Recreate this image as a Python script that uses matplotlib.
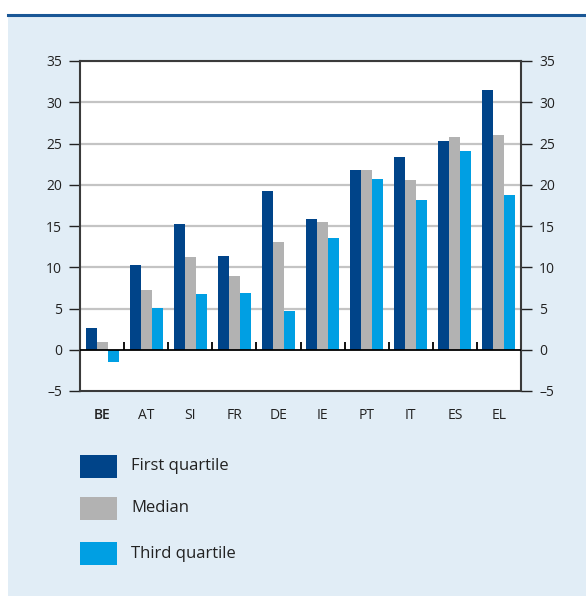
import matplotlib
matplotlib.use("Agg")
import matplotlib.pyplot as plt
from matplotlib.patches import Rectangle
from matplotlib.lines import Line2D
import numpy as np

plt.rcParams['font.family'] = ['Open Sans', 'DejaVu Sans']

categories = ["BE", "AT", "SI", "FR", "DE", "IE", "PT", "IT", "ES", "EL"]
first_quartile = [2.6, 10.3, 15.3, 11.4, 19.2, 15.9, 21.8, 23.4, 25.3, 31.5]
median = [0.9, 7.2, 11.3, 8.9, 13.1, 15.5, 21.8, 20.6, 25.8, 26.0]
third_quartile = [-1.5, 5.1, 6.8, 6.9, 4.7, 13.6, 20.7, 18.2, 24.1, 18.7]
series_labels = ["First quartile", "Median", "Third quartile"]
colors = ["#004489", "#b2b2b2", "#009fe3"]
yticks = [-5, 0, 5, 10, 15, 20, 25, 30, 35]

W, H = 586, 596
fig = plt.figure(figsize=(W / 100, H / 100), dpi=100)
fig.patch.set_facecolor("white")

def px(x, y, w, h):
    return (x / W, 1 - (y + h) / H, w / W, h / H)

# light blue panel
bx, by, bw, bh = px(8, 15, 578, 581)
fig.add_artist(Rectangle((bx, by), bw, bh, transform=fig.transFigure,
                         facecolor="#e1edf6", edgecolor="none", zorder=0))
fig.add_artist(Line2D([8 / W, 1], [1 - 14.5 / H, 1 - 14.5 / H], transform=fig.transFigure,
                      color="#1a5796", lw=2.2, zorder=1))

ax = fig.add_axes(px(80, 61, 441, 330))
ax.set_facecolor("white")
x = np.arange(len(categories))
w = 0.25
for i, (vals, lab, c) in enumerate(zip([first_quartile, median, third_quartile], series_labels, colors)):
    ax.bar(x + (i - 1) * w, vals, width=w, color=c, label=lab, zorder=3)

ax.set_xlim(-0.5, len(categories) - 0.5)
ax.set_ylim(-5, 35)
ax.set_yticks(yticks)
for t in yticks:
    if t == 0:
        ax.axhline(0, color="black", lw=1.3, zorder=4)
    elif t > 0:
        ax.axhline(t, color="#c4c4c4", lw=1.6, zorder=1)

ax.tick_params(axis="y", which="both", direction="out", length=8, width=1, color="#222222",
               labelsize=10, labelcolor="#222222", left=True, right=True,
               labelleft=True, labelright=True, pad=5)
ax.set_yticklabels(["\u20135" if t < 0 else str(t) for t in yticks])
ax.set_xticks(x)
ax.set_xticklabels(categories)
ax.tick_params(axis="x", length=0, labelsize=10, labelcolor="#222222", pad=12)
ax.get_xticklabels()[0].set_fontweight("semibold")

# category separators above zero line
for b in np.arange(0.5, len(categories) - 0.5, 1.0):
    ax.plot([b, b], [0, 1.0], color="black", lw=1.3, zorder=5, solid_capstyle="butt")

for s in ax.spines.values():
    s.set_color("#3a3a3a")
    s.set_linewidth(1.5)

# legend
for i, (lab, c) in enumerate(zip(series_labels, colors)):
    ys = [455, 497, 542][i]
    rx, ry, rw, rh = px(80, ys, 37, 23)
    fig.add_artist(Rectangle((rx, ry), rw, rh, transform=fig.transFigure,
                             facecolor=c, edgecolor="none", zorder=2))
    fig.text(131 / W, 1 - (ys + 11.5) / H, lab, fontsize=12, color="#222222",
             va="center", ha="left")

fig.savefig("out.png", dpi=100, facecolor=fig.get_facecolor())
